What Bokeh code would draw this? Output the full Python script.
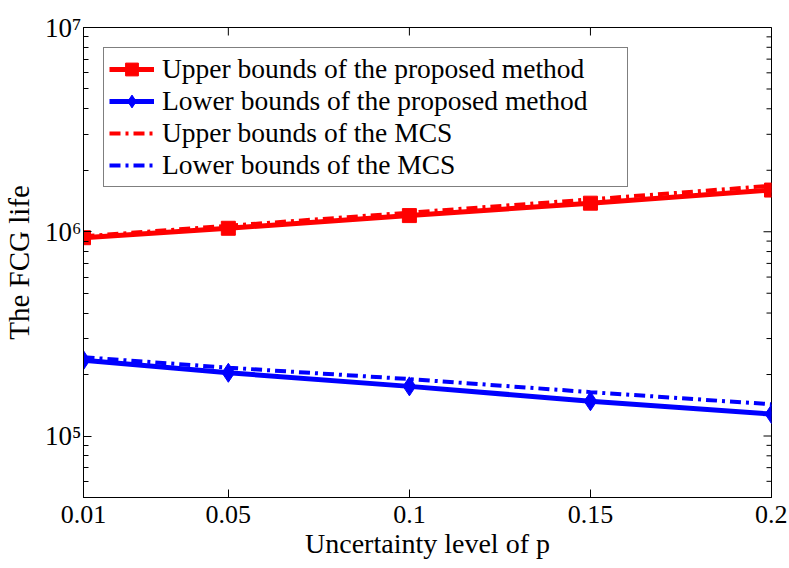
import math
from bokeh.plotting import figure
from bokeh.models import (FixedTicker, LogAxis, LinearAxis, Legend,
                          LegendItem, Range1d, ColumnDataSource, CustomJSTickFormatter)
from bokeh.embed import file_html
from bokeh.resources import INLINE

# ---- data ----
uncertainty = [0.01, 0.05, 0.1, 0.15, 0.2]
x_tick_labels = ["0.01", "0.05", "0.1", "0.15", "0.2"]
upper_proposed = [9.35e5, 1.04e6, 1.2e6, 1.38e6, 1.6e6]
lower_proposed = [2.35e5, 2.04e5, 1.75e5, 1.48e5, 1.28e5]
upper_mcs = [9.5e5, 1.07e6, 1.24e6, 1.44e6, 1.68e6]
lower_mcs = [2.43e5, 2.16e5, 1.9e5, 1.64e5, 1.43e5]
y_major_ticks = [1e5, 1e6, 1e7]
y_tick_labels = ["10\u2075", "10\u2076", "10\u2077"]
y_range_limits = (5e4, 1e7)
x_range_limits = (0.01, 0.2)

FONT = "Liberation Serif"
RED = "#ff0000"
BLUE = "#0000ff"

src = ColumnDataSource(dict(x=uncertainty, up=upper_proposed, lp=lower_proposed,
                            um=upper_mcs, lm=lower_mcs))

p = figure(output_backend="svg", toolbar_location=None,
           frame_width=688, frame_height=470,
           min_border_left=83, min_border_right=16, min_border_top=27, min_border_bottom=69,
           x_range=Range1d(*x_range_limits), y_range=Range1d(*y_range_limits),
           y_axis_type="log", x_axis_location=None, y_axis_location=None)
p.grid.visible = False
p.outline_line_color = "black"
p.outline_line_width = 1
p.background_fill_color = "white"
p.border_fill_color = "white"

minor = [m * d for d in [1e4, 1e5, 1e6] for m in range(2, 10)]
minor = [v for v in minor if y_range_limits[0] <= v <= y_range_limits[1]]
yticker = FixedTicker(ticks=y_major_ticks, minor_ticks=minor)
xticker = FixedTicker(ticks=uncertainty)


def style_axis(ax):
    ax.axis_line_color = "black"
    ax.axis_line_width = 1
    ax.major_tick_in = 8
    ax.major_tick_out = 0
    ax.minor_tick_in = 5
    ax.minor_tick_out = 0
    ax.major_tick_line_color = "black"
    ax.minor_tick_line_color = "black"
    ax.major_label_text_font = FONT
    ax.major_label_text_color = "black"
    ax.axis_label_text_font = FONT
    ax.axis_label_text_font_style = "normal"
    ax.axis_label_text_color = "black"


bottom = LinearAxis(ticker=xticker,
                    major_label_overrides={v: s for v, s in zip(uncertainty, x_tick_labels)})
style_axis(bottom)
bottom.major_label_text_font_size = "26px"
bottom.major_label_standoff = 8
bottom.axis_label = "Uncertainty level of p"
bottom.axis_label_text_font_size = "28px"
bottom.axis_label_standoff = 2
p.add_layout(bottom, "below")

y_formatter = CustomJSTickFormatter(
    args=dict(yvals=y_major_ticks, ylabs=y_tick_labels),
    code="""
    for (let k = 0; k < yvals.length; k++) {
        if (Math.abs(Math.log10(tick) - Math.log10(yvals[k])) < 1e-6) { return ylabs[k]; }
    }
    return '';
    """)
left = LogAxis(ticker=yticker, formatter=y_formatter)
style_axis(left)
left.major_label_text_font_size = "27px"
left.major_label_standoff = 2
left.axis_label = "The FCG life"
left.axis_label_text_font_size = "29px"
left.axis_label_standoff = 7
p.add_layout(left, "left")

# inward ticks on top and right edges (box)
tick_src_r = ColumnDataSource(dict(x=[x_range_limits[1]] * len(y_major_ticks), y=y_major_ticks))
tick_src_rm = ColumnDataSource(dict(x=[x_range_limits[1]] * len(minor), y=minor))
tick_src_t = ColumnDataSource(dict(x=uncertainty, y=[y_range_limits[1]] * len(uncertainty)))
p.scatter("x", "y", source=tick_src_r, marker="dash", size=16, line_color="black", line_width=1)
p.scatter("x", "y", source=tick_src_rm, marker="dash", size=10, line_color="black", line_width=1)
p.scatter("x", "y", source=tick_src_t, marker="dash", size=16, angle=math.pi / 2,
          line_color="black", line_width=1)

# series
l1 = p.line("x", "up", source=src, line_color=RED, line_width=5)
m1 = p.scatter("x", "up", source=src, marker="square", size=14,
               fill_color=RED, line_color=RED)
l2 = p.line("x", "lp", source=src, line_color=BLUE, line_width=5)
m2 = p.scatter("x", "lp", source=src, marker="diamond", size=19,
               fill_color=BLUE, line_color=BLUE)
l3 = p.line("x", "um", source=src, line_color=RED, line_width=4, line_dash="11 5 3 5")
l4 = p.line("x", "lm", source=src, line_color=BLUE, line_width=4, line_dash="11 5 3 5")

legend = Legend(items=[
    LegendItem(label="Upper bounds of the proposed method", renderers=[l1, m1]),
    LegendItem(label="Lower bounds of the proposed method", renderers=[l2, m2]),
    LegendItem(label="Upper bounds of the MCS", renderers=[l3]),
    LegendItem(label="Lower bounds of the MCS", renderers=[l4]),
], location="top_left")
legend.margin = 20
legend.padding = 5
legend.spacing = 0
legend.glyph_width = 45
legend.glyph_height = 32
legend.label_height = 32
legend.label_width = 460
legend.label_standoff = 8
legend.label_text_font = FONT
legend.label_text_font_size = "27.5px"
legend.label_text_color = "black"
legend.border_line_color = "black"
legend.border_line_width = 1
legend.background_fill_color = "white"
legend.background_fill_alpha = 1
p.add_layout(legend, "center")

open("out.html", "w").write(file_html(p, INLINE))
